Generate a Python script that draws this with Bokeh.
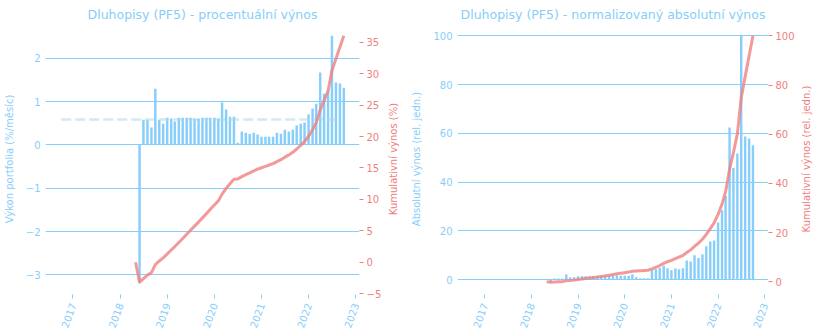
import numpy as np
import pandas as pd
from bokeh.plotting import figure
from bokeh.models import Range1d, LinearAxis, FixedTicker
from bokeh.layouts import row
from bokeh.embed import file_html
from bokeh.resources import INLINE

# ---------------- data ----------------
first_month = "2018-06-01"
n_months = 53

pct_returns = [-3.17, 0.58, 0.58, 0.40, 1.30, 0.58, 0.49, 0.63, 0.61, 0.54,
               0.63, 0.63, 0.63, 0.63, 0.61, 0.61, 0.63, 0.63, 0.63, 0.63,
               0.61, 0.98, 0.82, 0.65, 0.65, 0.05, 0.31, 0.28, 0.25, 0.28,
               0.24, 0.19, 0.19, 0.19, 0.19, 0.28, 0.26, 0.35, 0.31, 0.35,
               0.45, 0.49, 0.52, 0.70, 0.84, 0.95, 1.67, 1.18, 1.25, 2.52,
               1.44, 1.42, 1.32]

abs_returns = [-1.0, 0.5, 0.5, 0.5, 2.2, 1.0, 1.0, 1.4, 1.4, 1.4,
               1.4, 1.4, 1.4, 1.6, 1.8, 1.8, 2.0, 1.8, 1.6, 1.6,
               1.6, 2.3, 1.0, 0.6, 0.6, 0.6, 4.0, 4.3, 4.9, 5.7,
               4.7, 3.9, 4.6, 4.3, 4.7, 7.9, 7.5, 10.0, 8.9, 10.4,
               13.7, 15.7, 16.1, 23.5, 28.5, 34.3, 62.4, 45.8, 51.8, 100.0,
               58.7, 57.9, 55.1]

mean_start = "2016-10-01"
mean_end = "2022-08-20"

year_ticks = [2017, 2018, 2019, 2020, 2021, 2022, 2023]
pct_ticks = [-3, -2, -1, 0, 1, 2]
cum_pct_ticks = [-5, 0, 5, 10, 15, 20, 25, 30, 35]
abs_ticks = [0, 20, 40, 60, 80, 100]
cum_abs_ticks = [0, 20, 40, 60, 80, 100]

title1 = "Dluhopisy (PF5) - procentuální výnos"
title2 = "Dluhopisy (PF5) - normalizovaný absolutní výnos"
ylabel1 = "Výkon portfolia (%/měsíc)"
ylabel1r = "Kumulativní výnos (%)"
ylabel2 = "Absolutní výnos (rel. jedn.)"
ylabel2r = "Kumulativní výnos (rel. jedn.)"

assert len(pct_returns) == n_months and len(abs_returns) == n_months

# ---------------- derived ----------------
def dec_year(d):
    d = pd.Timestamp(d)
    return d.year + (d.dayofyear - 1) / 365.25

months = pd.date_range(first_month, periods=n_months, freq="MS")
x = np.array([dec_year(d) for d in months])
x_line = np.concatenate([[dec_year(months[0] - pd.DateOffset(months=1))], x])

cum_pct = np.concatenate([[0.0], (np.cumprod(1 + np.array(pct_returns) / 100) - 1) * 100])
cs = np.cumsum(abs_returns)
cum_abs = np.concatenate([[0.0], cs / cs[-1] * 100])
mean_pct = float(np.mean(pct_returns))

def padded(lo, hi, m=0.05):
    span = hi - lo
    return lo - m * span, hi + m * span

x_lo, x_hi = padded(dec_year(mean_start) - 0.03, x[-1] + 0.03)

LB = "#87CEFA"
LC = "#F08080"
FONT = "DejaVu Sans"
H = 336
FRAME_TOP, FRAME_BOTTOM = 23, 42


def make_fig(title, width, bl, br, bars, line_y, yt, ytr, yl, minus=True):
    y0, y1 = padded(min(min(bars), 0), max(bars))
    c0, c1 = padded(min(line_y), max(line_y))
    p = figure(width=width, height=H, x_range=Range1d(x_lo, x_hi),
               y_range=Range1d(y0, y1), output_backend="svg",
               toolbar_location=None, title=title,
               min_border_left=bl, min_border_right=br,
               min_border_bottom=FRAME_BOTTOM, min_border_top=0)
    p.extra_y_ranges = {"cum": Range1d(c0, c1)}
    p.outline_line_color = None
    p.background_fill_color = "white"
    p.border_fill_color = "white"
    p.title.text_font = FONT
    p.title.text_font_size = "12.5px"
    p.title.text_font_style = "normal"
    p.title.text_color = LB
    p.title.align = "center"
    p.title.standoff = 4
    p.xgrid.grid_line_color = None
    p.ygrid.grid_line_color = LB
    p.ygrid.grid_line_width = 1
    p.ygrid.ticker = FixedTicker(ticks=yt)

    xa = p.xaxis[0]
    xa.ticker = FixedTicker(ticks=year_ticks)
    xa.major_label_overrides = {t: str(t) for t in year_ticks}
    xa.axis_line_color = None
    xa.major_tick_line_color = LB
    xa.major_tick_out = 4
    xa.major_tick_in = 0
    xa.minor_tick_line_color = None
    xa.major_label_orientation = np.deg2rad(70)
    xa.major_label_text_color = LB
    xa.major_label_text_font = FONT
    xa.major_label_text_font_size = "10px"

    ya = p.yaxis[0]
    ya.ticker = FixedTicker(ticks=yt)
    ya.major_label_overrides = {t: str(t).replace("-", "\u2212") for t in yt}
    ya.axis_line_color = None
    ya.major_tick_line_color = None
    ya.major_tick_out = 0
    ya.minor_tick_line_color = None
    ya.major_label_text_color = LB
    ya.major_label_text_font = FONT
    ya.major_label_text_font_size = "10px"
    ya.major_label_standoff = 5
    ya.axis_label = yl
    ya.axis_label_text_color = LB
    ya.axis_label_text_font = FONT
    ya.axis_label_text_font_size = "10px"
    ya.axis_label_text_font_style = "normal"
    ya.axis_label_standoff = 8

    ra = LinearAxis(y_range_name="cum", ticker=FixedTicker(ticks=ytr))
    ra.major_label_overrides = {t: str(t).replace("-", "\u2212") for t in ytr}
    ra.axis_line_color = None
    ra.major_tick_line_color = LC
    ra.major_tick_out = 4
    ra.major_tick_in = 0
    ra.minor_tick_line_color = None
    ra.major_label_text_color = LC
    ra.major_label_text_font = FONT
    ra.major_label_text_font_size = "10px"
    ra.major_label_standoff = 3
    p.add_layout(ra, "right")

    p.vbar(x=x, top=bars, bottom=0, width=0.052, color=LB, line_color=None)
    if minus:
        p.line([dec_year(mean_start), dec_year(mean_end)], [mean_pct, mean_pct],
               line_color="#ADD8E6", line_alpha=0.55, line_width=2.5, line_dash="10 4")
    p.line(x_line, line_y, y_range_name="cum", line_color=LC, line_alpha=0.8,
           line_width=3, line_join="round")
    return p


def label_strip(text, width):
    # narrow figure carrying only a bottom-to-top axis title (right-hand y label)
    s = figure(width=width, height=H, x_range=Range1d(0, 1), y_range=Range1d(0, 1),
               output_backend="svg", toolbar_location=None, x_axis_location=None,
               min_border_left=0, min_border_right=0,
               min_border_top=FRAME_TOP, min_border_bottom=FRAME_BOTTOM)
    s.outline_line_color = None
    s.background_fill_color = "white"
    s.border_fill_color = "white"
    s.xgrid.grid_line_color = None
    s.ygrid.grid_line_color = None
    a = s.yaxis[0]
    a.ticker = FixedTicker(ticks=[])
    a.axis_line_color = None
    a.major_tick_line_color = None
    a.minor_tick_line_color = None
    a.major_tick_out = 0
    a.major_label_standoff = 0
    a.axis_label = text
    a.axis_label_standoff = 0
    a.axis_label_text_color = LC
    a.axis_label_text_font = FONT
    a.axis_label_text_font_size = "10px"
    a.axis_label_text_font_style = "normal"
    return s


p1 = make_fig(title1, 384, 41, 25, pct_returns, cum_pct, pct_ticks, cum_pct_ticks,
              ylabel1, minus=True)
s1 = label_strip(ylabel1r, 24)
p2 = make_fig(title2, 389, 43, 28, abs_returns, cum_abs, abs_ticks, cum_abs_ticks,
              ylabel2, minus=False)
s2 = label_strip(ylabel2r, 20)

layout = row(p1, s1, p2, s2)
open("out.html", "w").write(file_html(layout, INLINE))
